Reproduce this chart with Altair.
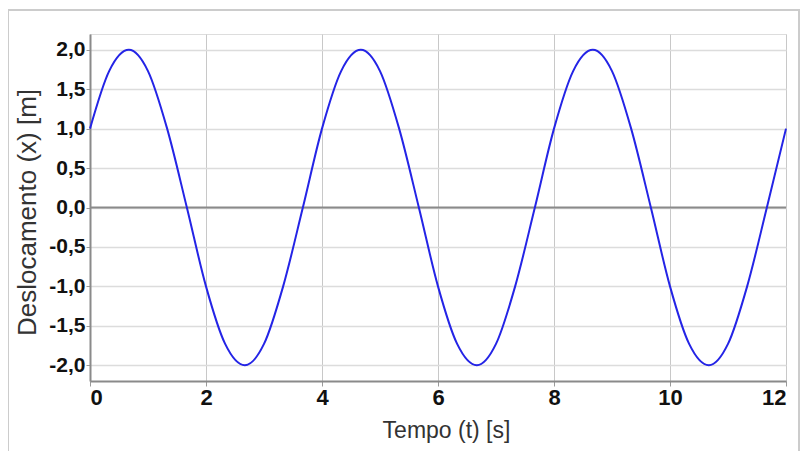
import altair as alt
import pandas as pd

# time samples [s]
t = [0, 0.33, 0.67, 1.0, 1.33, 1.67, 2.0, 2.33, 2.67, 3.0, 3.33, 3.67,
     4.0, 4.33, 4.67, 5.0, 5.33, 5.67, 6.0, 6.33, 6.67, 7.0, 7.33, 7.67,
     8.0, 8.33, 8.67, 9.0, 9.33, 9.67, 10.0, 10.33, 10.67, 11.0, 11.33, 11.67, 12.0]
# displacement [m]
x = [1.0, 1.73, 2.0, 1.73, 1.0, 0.0, -1.0, -1.73, -2.0, -1.73, -1.0, 0.0,
     1.0, 1.73, 2.0, 1.73, 1.0, 0.0, -1.0, -1.73, -2.0, -1.73, -1.0, 0.0,
     1.0, 1.73, 2.0, 1.73, 1.0, 0.0, -1.0, -1.73, -2.0, -1.73, -1.0, 0.0, 1.0]

x_ticks = [0, 2, 4, 6, 8, 10, 12]
y_ticks = [-2.0, -1.5, -1.0, -0.5, 0.0, 0.5, 1.0, 1.5, 2.0]

df = pd.DataFrame({"t": t, "x": x})
zero = pd.DataFrame({"y": [0.0]})
dummy = pd.DataFrame({"a": [0]})

FONT = "Liberation Sans"
label_expr = "(datum.value < 0 ? '-' : '') + replace(format(abs(datum.value), '.1f'), '.', ',')"

xscale = alt.Scale(domain=[0, 12], nice=False, zero=False)
yscale = alt.Scale(domain=[-2.2, 2.2], nice=False, zero=False)

line = alt.Chart(df).mark_line(color="#2424e6", strokeWidth=2, interpolate="monotone").encode(
    x=alt.X("t:Q", scale=xscale,
            axis=alt.Axis(values=x_ticks, title="Tempo (t) [s]", format="d",
                          grid=True, gridColor="#c8c8c8", gridWidth=1,
                          domainColor="#8a8a8a", domainWidth=2,
                          tickColor="#9a9a9a", tickSize=5, tickWidth=1,
                          labelFont=FONT, labelFontSize=22, labelFontWeight="bold",
                          labelColor="#111111", labelPadding=1,
                          titleFont=FONT, titleFontSize=23, titleFontWeight="normal",
                          titleColor="#333333", titlePadding=11, titleX=356)),
    y=alt.Y("x:Q", scale=yscale,
            axis=alt.Axis(values=y_ticks, title="Deslocamento (x) [m]", labelExpr=label_expr,
                          grid=True, gridColor="#dcdcdc", gridWidth=1.5,
                          domainColor="#8a8a8a", domainWidth=2,
                          tickColor="#9a9a9a", tickSize=4, tickWidth=1,
                          labelFont=FONT, labelFontSize=21, labelFontWeight="bold",
                          labelColor="#111111", labelPadding=1,
                          titleFont=FONT, titleFontSize=26, titleFontWeight="normal",
                          titleColor="#333333", titlePadding=8, titleY=178)),
)

zero_rule = alt.Chart(zero).mark_rule(color="#8a8a8a", strokeWidth=2).encode(
    y=alt.Y("y:Q", scale=yscale)
)

border = alt.Chart(dummy).mark_rect(fill=None, stroke="#cccccc", strokeWidth=2, clip=False).encode(
    x=alt.value(-82), x2=alt.value(709), y=alt.value(-24), y2=alt.value(419)
)

chart = alt.layer(border, zero_rule, line).properties(
    width=696, height=347,
    autosize=alt.AutoSizeParams(type="none"),
    padding={"left": 82, "top": 26, "right": 15, "bottom": 70},
).configure_view(stroke="#8a8a8a", strokeWidth=2).configure(background="white")

chart.save("out.html", embed_options={"renderer": "svg", "actions": False})
